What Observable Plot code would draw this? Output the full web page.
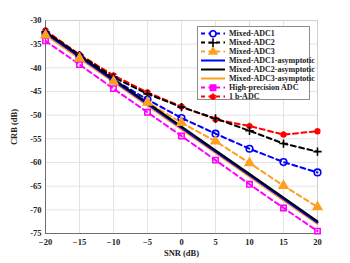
<!DOCTYPE html>
<html><head><meta charset="utf-8">
<script src="https://cdn.jsdelivr.net/npm/d3@7"></script>
<script src="https://cdn.jsdelivr.net/npm/@observablehq/plot@0.6"></script>
<style>
body{margin:0;background:#fff;}
#wrap{position:relative;width:350px;height:263px;font-family:"Liberation Serif","Times New Roman",serif;}
#legend{position:absolute;left:197px;top:26px;width:113px;height:74px;border:1px solid #8c8c8c;background:#fff;box-sizing:border-box;}
.item{position:absolute;left:2px;height:9px;display:flex;align-items:center;font-size:8px;font-weight:bold;color:#222;white-space:nowrap;}
.item svg{margin-right:3px;}
</style></head>
<body><div id="wrap"><div id="legend"></div></div>
<script>
const snr = [-20, -15, -10, -5, 0, 5, 10, 15, 20];
const mixed1 = [-32.8, -37.7, -42.5, -46.7, -50.6, -53.9, -57.1, -59.9, -62.1];
const mixed2 = [-32.4, -37.3, -42.0, -45.5, -48.3, -50.7, -53.3, -56.0, -57.7];
const mixed3 = [-33.1, -38.0, -42.9, -47.3, -51.6, -55.5, -60.1, -64.9, -69.4];
const asym1 = [-32.7, -37.7, -42.7, -47.7, -52.7, -57.7, -62.7, -67.7, -72.7];
const asym2 = [-32.4, -37.4, -42.4, -47.4, -52.4, -57.4, -62.4, -67.4, -72.4];
const asym3 = [-33.0, -38.0, -43.0, -48.0, -53.0, -58.0, -63.0, -68.0, -73.0];
const highPrec = [-34.3, -39.3, -44.4, -49.4, -54.4, -59.5, -64.6, -69.6, -74.5];
const oneBit = [-32.1, -37.2, -41.6, -45.2, -48.2, -50.9, -52.3, -54.1, -53.4];
const xTicks = [-20, -15, -10, -5, 0, 5, 10, 15, 20];
const yTicks = [-30, -35, -40, -45, -50, -55, -60, -65, -70, -75];

const series = [
  {name: "Mixed-ADC1", vals: mixed1, color: "#0000ff", dash: "5,3.5", symbol: "circle", fill: "none"},
  {name: "Mixed-ADC2", vals: mixed2, color: "#000000", dash: "5,3.5", symbol: "plus", fill: "none"},
  {name: "Mixed-ADC3", vals: mixed3, color: "#ff9f20", dash: "5,3.5", symbol: "triangle", fill: "#ff9f20"},
  {name: "Mixed-ADC1-asymptotic", vals: asym1, color: "#0000ff", dash: null, symbol: null},
  {name: "Mixed-ADC2-asymptotic", vals: asym2, color: "#000000", dash: null, symbol: null},
  {name: "Mixed-ADC3-asymptotic", vals: asym3, color: "#ff9f20", dash: null, symbol: null},
  {name: "High-precision ADC", vals: highPrec, color: "#ff00ff", dash: "5,3.5", symbol: "square", fill: "none"},
  {name: "1 b-ADC", vals: oneBit, color: "#ff0000", dash: "5,3.5", symbol: "asterisk", fill: "none"}
];

const table = s => snr.map((x, i) => ({x, y: s.vals[i]}));
const drawOrder = [6, 7, 0, 1, 2, 5, 3, 4];
const marks = [
  Plot.gridX(xTicks, {stroke: "#e3e3e3", strokeOpacity: 1}),
  Plot.gridY(yTicks, {stroke: "#e3e3e3", strokeOpacity: 1}),
  Plot.frame({stroke: "#d0d0d0"}),
  Plot.ruleX([xTicks[0]], {stroke: "#6e6e6e", strokeWidth: 1}),
  Plot.ruleY([yTicks[yTicks.length - 1]], {stroke: "#6e6e6e", strokeWidth: 1}),
  Plot.axisX(xTicks, {tickSize: 0, tickPadding: 5, fontSize: 8.5, fontWeight: "bold", label: "SNR (dB)", labelAnchor: "center", labelOffset: 22, labelArrow: false}),
  Plot.axisY(yTicks, {tickSize: 0, tickPadding: 4, fontSize: 8.5, fontWeight: "bold", tickFormat: d => d, label: "CRB (dB)", labelAnchor: "center", labelOffset: 35, labelArrow: false})
];
for (const k of drawOrder) {
  const s = series[k];
  marks.push(Plot.line(table(s), {x: "x", y: "y", stroke: s.color, strokeWidth: s.dash ? 2 : 1.9, strokeDasharray: s.dash || undefined}));
}
for (const k of drawOrder) {
  const s = series[k];
  if (!s.symbol) continue;
  const r = s.symbol === "triangle" ? 4.2 : s.symbol === "square" ? 3 : s.symbol === "asterisk" ? 3 : s.symbol === "plus" ? 2.8 : 3.3;
  marks.push(Plot.dot(table(s), {x: "x", y: "y", symbol: () => s.symbol, r, stroke: s.color, fill: s.fill, strokeWidth: s.symbol === "triangle" ? 0 : (s.symbol === "asterisk" ? 2.4 : 1.6)}));
}

const chart = Plot.plot({
  width: 350, height: 263,
  marginLeft: 45, marginRight: 33, marginTop: 20, marginBottom: 30,
  style: {fontFamily: "'Liberation Serif','Times New Roman',serif", color: "#222", background: "#fff"},
  x: {domain: [-20, 20]},
  y: {domain: [-75, -30]},
  symbol: {type: "identity"},
  marks
});
chart.style.position = "absolute";
chart.style.left = "0"; chart.style.top = "0";
document.getElementById("wrap").prepend(chart);

const legend = d3.select("#legend");
series.forEach((s, i) => {
  const item = legend.append("div").attr("class", "item").style("top", (1.5 + i * 9) + "px");
  const sv = item.append("svg").attr("width", 26).attr("height", 9);
  sv.append("line").attr("x1", 1).attr("x2", 25).attr("y1", 4.5).attr("y2", 4.5)
    .attr("stroke", s.color).attr("stroke-width", 2).attr("stroke-dasharray", s.dash ? "4,3.5" : null);
  if (s.symbol) {
    const sym = {circle: d3.symbolCircle, plus: d3.symbolPlus, triangle: d3.symbolTriangle, square: d3.symbolSquare, asterisk: d3.symbolAsterisk}[s.symbol];
    sv.append("path").attr("d", d3.symbol(sym, s.symbol === "triangle" ? 45 : 28)())
      .attr("transform", "translate(13,4.8)")
      .attr("fill", s.symbol === "triangle" || s.symbol === "square" ? s.color : (s.symbol === "circle" ? "#fff" : "none"))
      .attr("stroke", s.symbol === "triangle" ? "none" : s.color).attr("stroke-width", s.symbol === "asterisk" ? 2.2 : 1.6);
  }
  item.append("span").text(s.name);
});
</script></body></html>
